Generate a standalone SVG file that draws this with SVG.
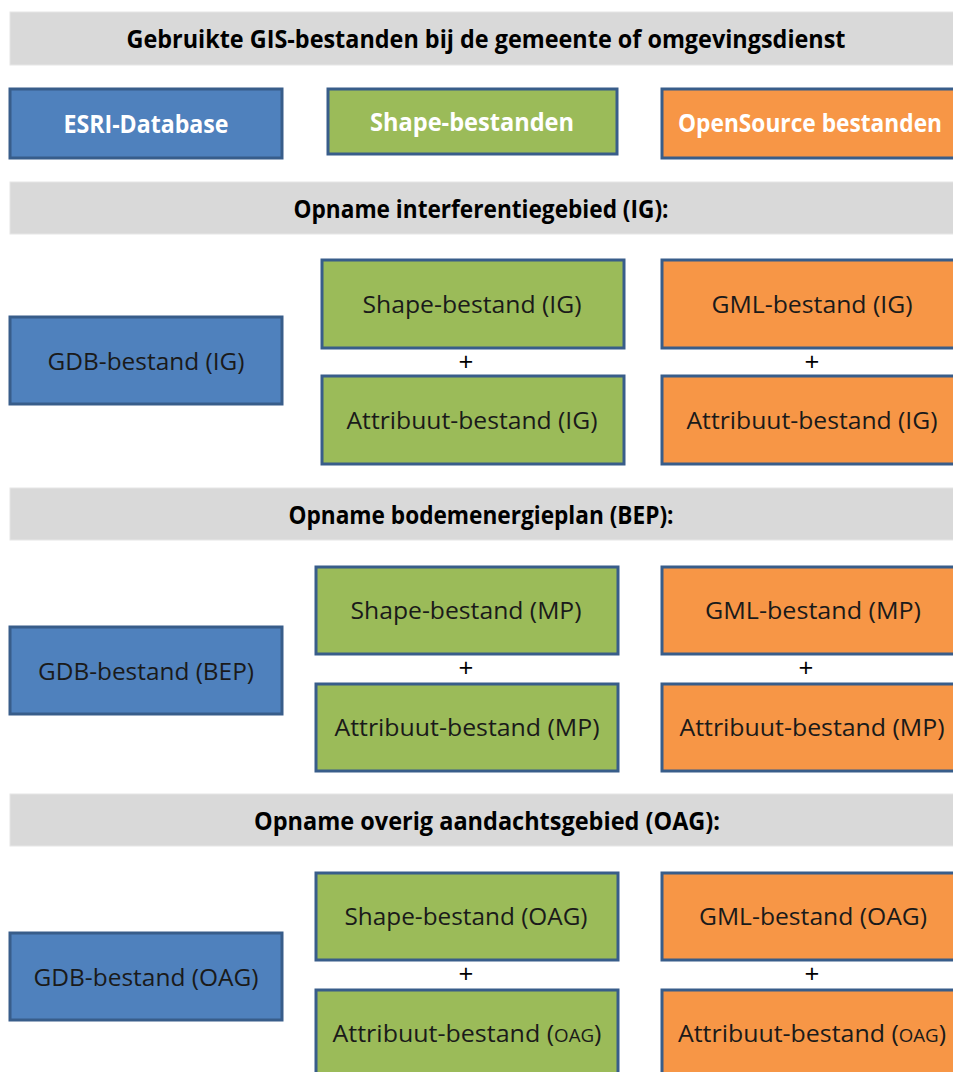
<svg xmlns="http://www.w3.org/2000/svg" width="953" height="1072" viewBox="0 0 953 1072">
<style>
.band{fill:#D9D9D9;stroke:#E6E6E6;stroke-width:1}
.box{stroke:#385D8A;stroke-width:3}
.blue{fill:#4F81BD}
.green{fill:#9BBB59}
.orange{fill:#F79646}
.h{font-family:"Open Sans","Liberation Sans",sans-serif;font-weight:bold;font-size:25px;fill:#000;text-anchor:middle}
.t{font-family:"Open Sans","Liberation Sans",sans-serif;font-weight:bold;font-size:25px;fill:#fff;text-anchor:middle}
.b{font-family:"Open Sans","Liberation Sans",sans-serif;font-size:24px;fill:#1a1a1a;text-anchor:middle}
.p{font-family:"Open Sans","Liberation Sans",sans-serif;font-size:26px;fill:#000;text-anchor:middle}
</style>
<rect width="953" height="1072" fill="#fff"/>
<g id="header1"><rect class="band" x="10" y="12" width="950" height="53"/><text class="h" x="486" y="48" textLength="719" lengthAdjust="spacingAndGlyphs">Gebruikte GIS-bestanden bij de gemeente of omgevingsdienst</text></g>
<g id="esri"><rect class="box blue" x="10" y="89" width="272" height="69"/><text class="t" x="146" y="133" textLength="165" lengthAdjust="spacingAndGlyphs">ESRI-Database</text></g>
<g id="shape"><rect class="box green" x="328" y="89" width="289" height="65"/><text class="t" x="472" y="131" textLength="204" lengthAdjust="spacingAndGlyphs">Shape-bestanden</text></g>
<g id="opensource"><rect class="box orange" x="662" y="89" width="300" height="69"/><text class="t" x="810" y="132" font-size="23" textLength="264" lengthAdjust="spacingAndGlyphs">OpenSource bestanden</text></g>

<g id="header2"><rect class="band" x="10" y="182" width="950" height="52"/><text class="h" x="481" y="218" textLength="375" lengthAdjust="spacingAndGlyphs">Opname interferentiegebied (IG):</text></g>
<g id="gdb-ig"><rect class="box blue" x="10" y="317" width="272" height="87"/><text class="b" x="146" y="370" textLength="197" lengthAdjust="spacingAndGlyphs">GDB-bestand (IG)</text></g>
<g id="shape-ig"><rect class="box green" x="322" y="260" width="302" height="88"/><text class="b" x="472" y="313" textLength="219" lengthAdjust="spacingAndGlyphs">Shape-bestand (IG)</text></g>
<g id="plus-g-ig"><text class="p" x="466" y="371">+</text></g>
<g id="attr-g-ig"><rect class="box green" x="322" y="376" width="302" height="88"/><text class="b" x="472" y="429" textLength="251" lengthAdjust="spacingAndGlyphs">Attribuut-bestand (IG)</text></g>
<g id="gml-ig"><rect class="box orange" x="662" y="260" width="300" height="88"/><text class="b" x="812" y="313" textLength="201" lengthAdjust="spacingAndGlyphs">GML-bestand (IG)</text></g>
<g id="plus-o-ig"><text class="p" x="812" y="371">+</text></g>
<g id="attr-o-ig"><rect class="box orange" x="662" y="376" width="300" height="88"/><text class="b" x="812" y="429" textLength="251" lengthAdjust="spacingAndGlyphs">Attribuut-bestand (IG)</text></g>

<g id="header3"><rect class="band" x="10" y="488" width="950" height="52"/><text class="h" x="481" y="524" textLength="385" lengthAdjust="spacingAndGlyphs">Opname bodemenergieplan (BEP):</text></g>
<g id="gdb-bep"><rect class="box blue" x="10" y="627" width="272" height="87"/><text class="b" x="146" y="680" textLength="216" lengthAdjust="spacingAndGlyphs">GDB-bestand (BEP)</text></g>
<g id="shape-mp"><rect class="box green" x="316" y="567" width="302" height="87"/><text class="b" x="466" y="619" textLength="231" lengthAdjust="spacingAndGlyphs">Shape-bestand (MP)</text></g>
<g id="plus-g-mp"><text class="p" x="466" y="677">+</text></g>
<g id="attr-g-mp"><rect class="box green" x="316" y="684" width="302" height="87"/><text class="b" x="467" y="736" textLength="265" lengthAdjust="spacingAndGlyphs">Attribuut-bestand (MP)</text></g>
<g id="gml-mp"><rect class="box orange" x="662" y="567" width="300" height="87"/><text class="b" x="813" y="619" textLength="216" lengthAdjust="spacingAndGlyphs">GML-bestand (MP)</text></g>
<g id="plus-o-mp"><text class="p" x="806" y="677">+</text></g>
<g id="attr-o-mp"><rect class="box orange" x="662" y="684" width="300" height="87"/><text class="b" x="812" y="736" textLength="265" lengthAdjust="spacingAndGlyphs">Attribuut-bestand (MP)</text></g>

<g id="header4"><rect class="band" x="10" y="794" width="950" height="52"/><text class="h" x="487" y="830" textLength="466" lengthAdjust="spacingAndGlyphs">Opname overig aandachtsgebied (OAG):</text></g>
<g id="gdb-oag"><rect class="box blue" x="10" y="933" width="272" height="87"/><text class="b" x="146" y="986" textLength="225" lengthAdjust="spacingAndGlyphs">GDB-bestand (OAG)</text></g>
<g id="shape-oag"><rect class="box green" x="316" y="873" width="302" height="87"/><text class="b" x="466" y="925" textLength="243" lengthAdjust="spacingAndGlyphs">Shape-bestand (OAG)</text></g>
<g id="plus-g-oag"><text class="p" x="466" y="983">+</text></g>
<g id="attr-g-oag"><rect class="box green" x="316" y="990" width="302" height="95"/><text class="b" x="467" y="1042" textLength="269" lengthAdjust="spacingAndGlyphs">Attribuut-bestand (<tspan font-size="18">OAG</tspan>)</text></g>
<g id="gml-oag"><rect class="box orange" x="662" y="873" width="300" height="87"/><text class="b" x="813" y="925" textLength="228" lengthAdjust="spacingAndGlyphs">GML-bestand (OAG)</text></g>
<g id="plus-o-oag"><text class="p" x="812" y="983">+</text></g>
<g id="attr-o-oag"><rect class="box orange" x="662" y="990" width="300" height="95"/><text class="b" x="812" y="1042" textLength="268" lengthAdjust="spacingAndGlyphs">Attribuut-bestand (<tspan font-size="18">OAG</tspan>)</text></g>
<g id="connectors"/>
</svg>
